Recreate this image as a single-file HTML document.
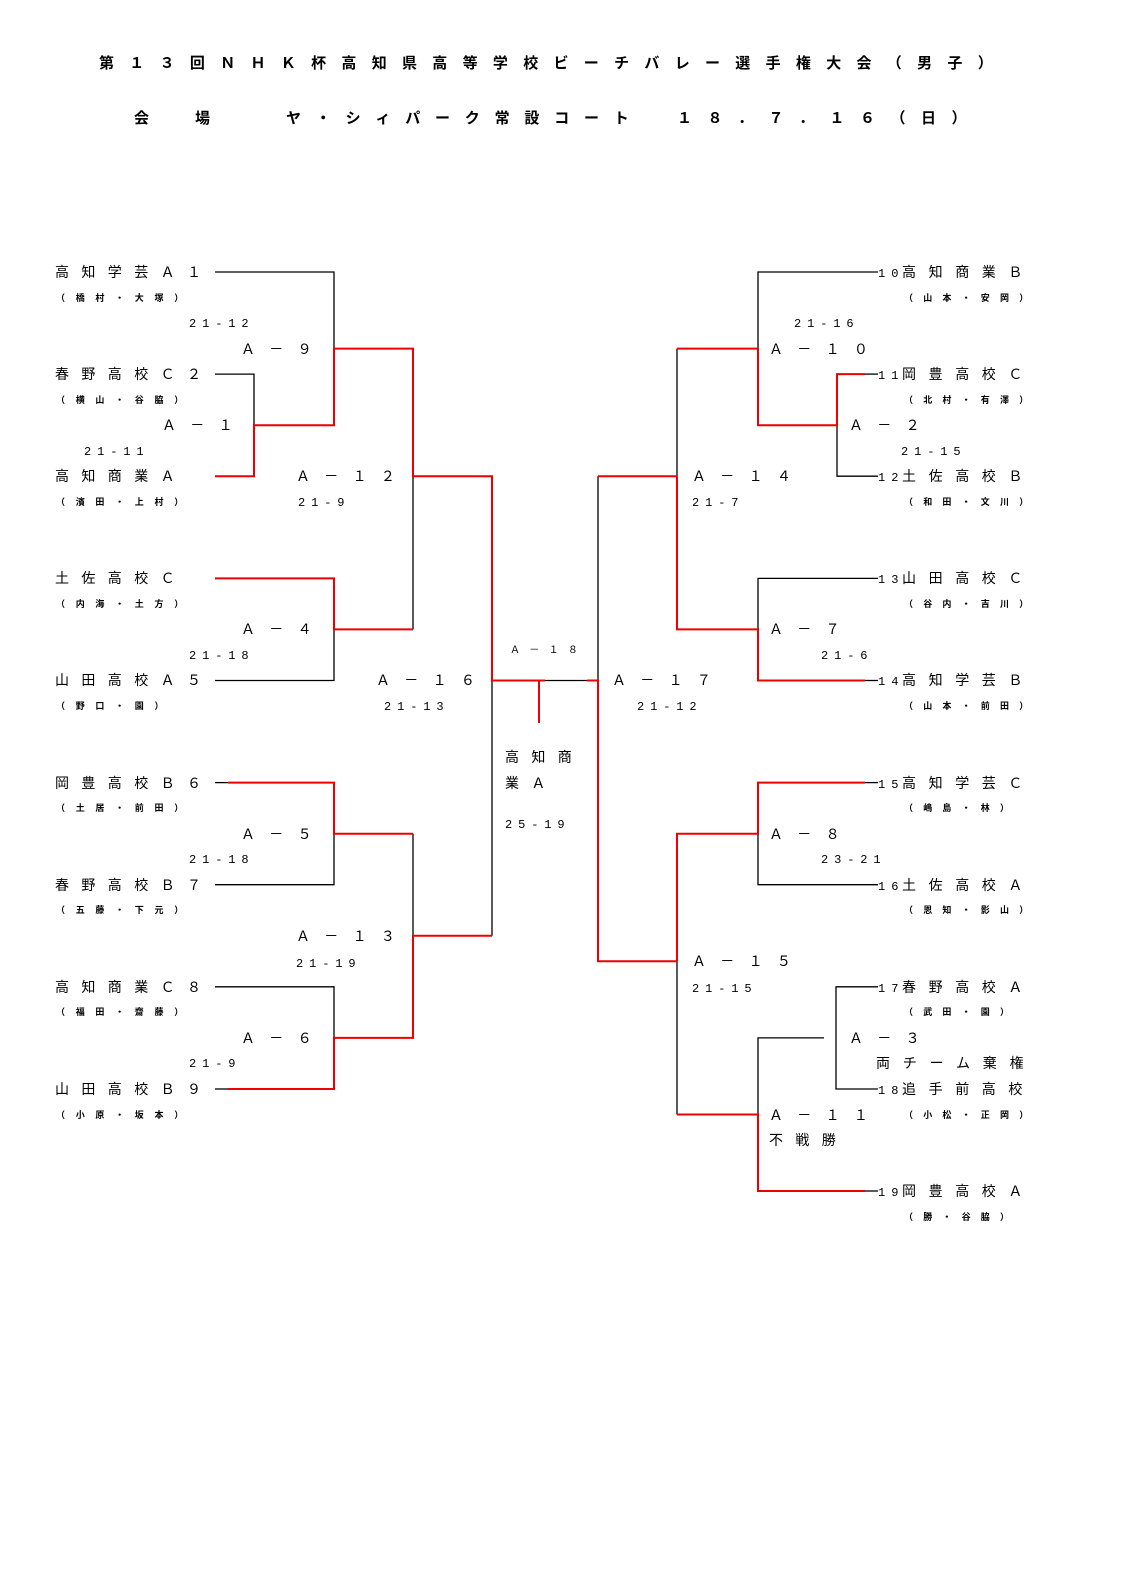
<!DOCTYPE html>
<html><head><meta charset="utf-8"><style>
html,body{margin:0;padding:0;background:#fff}
svg{display:block}
.t{font-family:"Liberation Sans","Noto Sans CJK JP",sans-serif;font-size:14px;fill:#000}
.s{font-family:"Liberation Sans","Noto Sans CJK JP",sans-serif;font-size:9px;fill:#000;font-weight:bold}
.n{font-family:"Liberation Mono",monospace;font-size:12px;fill:#000}
.h{font-family:"Liberation Sans","Noto Sans CJK JP",sans-serif;font-size:15px;fill:#000;font-weight:bold}
</style></head><body>
<svg width="1123" height="1587" viewBox="0 0 1123 1587" xmlns="http://www.w3.org/2000/svg">
<text class="h" x="99" y="68" letter-spacing="15.3">第１３回ＮＨＫ杯高知県高等学校ビーチバレー選手権大会（男子）</text>
<text class="h" x="134" y="123">会</text><text class="h" x="195" y="123">場</text>
<text class="h" x="286" y="123" letter-spacing="14.8">ヤ・シィパーク常設コート</text>
<text class="h" x="677" y="123" letter-spacing="15.5">１８．７．１６（日）</text>

<g fill="none" stroke="#000" stroke-width="1.3">
<polyline points="215,272 334,272 334,348.6"/>
<polyline points="215,374.1 254,374.1 254,425.2"/>
<line x1="413" y1="476.2" x2="413" y2="629.4"/>
<polyline points="334,629.4 334,680.5 215,680.5"/>
<line x1="215" y1="782.6" x2="228" y2="782.6"/>
<polyline points="334,833.7 334,884.7 215,884.7"/>
<line x1="413" y1="833.7" x2="413" y2="935.8"/>
<line x1="492" y1="680.5" x2="492" y2="935.8"/>
<polyline points="215,986.8 334,986.8 334,1037.9"/>
<line x1="215" y1="1089" x2="228" y2="1089"/>
<line x1="545" y1="680.5" x2="587" y2="680.5"/>
<line x1="598" y1="476.2" x2="598" y2="680.5"/>
<polyline points="878,272 758,272 758,348.6"/>
<line x1="865" y1="374.1" x2="878" y2="374.1"/>
<polyline points="837,425.2 837,476.2 878,476.2"/>
<line x1="677" y1="348.6" x2="677" y2="476.2"/>
<polyline points="878,578.4 758,578.4 758,629.4"/>
<line x1="865" y1="680.5" x2="878" y2="680.5"/>
<line x1="865" y1="782.6" x2="878" y2="782.6"/>
<polyline points="758,833.7 758,884.7 878,884.7"/>
<line x1="677" y1="961.3" x2="677" y2="1114.5"/>
<polyline points="824,1037.9 758,1037.9 758,1114.5"/>
<polyline points="878,986.8 836,986.8 836,1089 878,1089"/>
<line x1="865" y1="1191" x2="878" y2="1191"/>
</g>
<g fill="none" stroke="#e00" stroke-width="2">
<polyline points="215,476.2 254,476.2 254,425.2 334,425.2 334,348.6 413,348.6 413,476.2 492,476.2 492,680.5 545,680.5"/>
<line x1="539" y1="680.5" x2="539" y2="723"/>
<polyline points="215,578.4 334,578.4 334,629.4 413,629.4"/>
<polyline points="228,782.6 334,782.6 334,833.7 413,833.7"/>
<polyline points="228,1089 334,1089 334,1037.9 413,1037.9 413,935.8 492,935.8"/>
<polyline points="587,680.5 598,680.5 598,961.3 677,961.3"/>
<line x1="598" y1="476.2" x2="677" y2="476.2"/>
<polyline points="677,348.6 758,348.6 758,425.2 837,425.2 837,374.1 865,374.1"/>
<polyline points="677,476.2 677,629.4 758,629.4 758,680.5 865,680.5"/>
<polyline points="865,782.6 758,782.6 758,833.7 677,833.7 677,961.3"/>
<polyline points="677,1114.5 758,1114.5 758,1191 865,1191"/>
</g>

<g class="t" letter-spacing="12.4">
<text x="55" y="277">高知学芸Ａ１</text>
<text x="55" y="379">春野高校Ｃ２</text>
<text x="55" y="481">高知商業Ａ</text>
<text x="55" y="583">土佐高校Ｃ</text>
<text x="55" y="685">山田高校Ａ５</text>
<text x="55" y="788">岡豊高校Ｂ６</text>
<text x="55" y="890">春野高校Ｂ７</text>
<text x="55" y="992">高知商業Ｃ８</text>
<text x="55" y="1094">山田高校Ｂ９</text>
</g>
<g class="s" letter-spacing="10.7">
<text x="56" y="301">（橋村・大塚）</text>
<text x="56" y="403">（横山・谷脇）</text>
<text x="56" y="505">（濱田・上村）</text>
<text x="56" y="607">（内海・土方）</text>
<text x="56" y="709">（野口・園）</text>
<text x="56" y="811">（土居・前田）</text>
<text x="56" y="913">（五藤・下元）</text>
<text x="56" y="1015">（福田・齋藤）</text>
<text x="56" y="1118">（小原・坂本）</text>
</g>
<g class="t" letter-spacing="14.3">
<text x="241" y="354">Ａ－９</text>
<text x="162" y="430">Ａ－１</text>
<text x="296" y="481">Ａ－１２</text>
<text x="241" y="634">Ａ－４</text>
<text x="376" y="685">Ａ－１６</text>
<text x="241" y="839">Ａ－５</text>
<text x="296" y="941">Ａ－１３</text>
<text x="241" y="1043">Ａ－６</text>
<text x="769" y="354">Ａ－１０</text>
<text x="849" y="430">Ａ－２</text>
<text x="692" y="481">Ａ－１４</text>
<text x="769" y="634">Ａ－７</text>
<text x="612" y="685">Ａ－１７</text>
<text x="769" y="839">Ａ－８</text>
<text x="692" y="966">Ａ－１５</text>
<text x="849" y="1043">Ａ－３</text>
<text x="769" y="1120">Ａ－１１</text>
</g>
<g class="t" letter-spacing="12.4">
<text x="505" y="762">高知商</text>
<text x="505" y="788">業Ａ</text>
<text x="876" y="1068" letter-spacing="12.8">両チーム棄権</text>
<text x="769" y="1145">不戦勝</text>
</g>
<text x="510" y="653" font-family="Liberation Sans,Noto Sans CJK JP,sans-serif" font-size="10" letter-spacing="9.3">Ａ－１８</text>
<g class="n" letter-spacing="5.9">
<text x="189" y="327">21-12</text>
<text x="84" y="455">21-11</text>
<text x="298" y="506">21-9</text>
<text x="189" y="659">21-18</text>
<text x="384" y="710">21-13</text>
<text x="505" y="828">25-19</text>
<text x="189" y="863">21-18</text>
<text x="296" y="967">21-19</text>
<text x="189" y="1067">21-9</text>
<text x="794" y="327">21-16</text>
<text x="901" y="455">21-15</text>
<text x="692" y="506">21-7</text>
<text x="821" y="659">21-6</text>
<text x="637" y="710">21-12</text>
<text x="821" y="863">23-21</text>
<text x="692" y="992">21-15</text>
</g>
<g class="n" font-size="13" letter-spacing="6">
<text x="878" y="277">10</text>
<text x="878" y="379">11</text>
<text x="878" y="481">12</text>
<text x="878" y="583">13</text>
<text x="878" y="685">14</text>
<text x="878" y="788">15</text>
<text x="878" y="890">16</text>
<text x="878" y="992">17</text>
<text x="878" y="1094">18</text>
<text x="878" y="1196">19</text>
</g>
<g class="t" letter-spacing="12.6">
<text x="902" y="277">高知商業Ｂ</text>
<text x="902" y="379">岡豊高校Ｃ</text>
<text x="902" y="481">土佐高校Ｂ</text>
<text x="902" y="583">山田高校Ｃ</text>
<text x="902" y="685">高知学芸Ｂ</text>
<text x="902" y="788">高知学芸Ｃ</text>
<text x="902" y="890">土佐高校Ａ</text>
<text x="902" y="992">春野高校Ａ</text>
<text x="902" y="1094">追手前高校</text>
<text x="902" y="1196">岡豊高校Ａ</text>
</g>
<g class="s" letter-spacing="10.2">
<text x="904" y="301">（山本・安岡）</text>
<text x="904" y="403">（北村・有澤）</text>
<text x="904" y="505">（和田・文川）</text>
<text x="904" y="607">（谷内・吉川）</text>
<text x="904" y="709">（山本・前田）</text>
<text x="904" y="811">（嶋島・林）</text>
<text x="904" y="913">（恩知・影山）</text>
<text x="904" y="1015">（武田・園）</text>
<text x="904" y="1118">（小松・正岡）</text>
<text x="904" y="1220">（勝・谷脇）</text>
</g>
</svg>
</body></html>
